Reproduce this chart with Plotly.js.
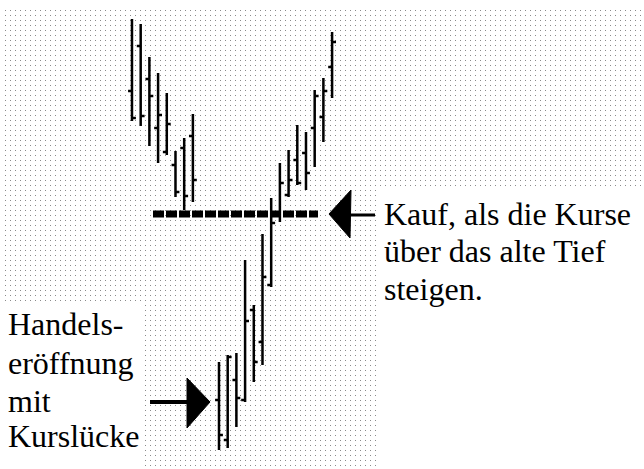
<!DOCTYPE html>
<html>
<head>
<meta charset="utf-8">
<script src="https://cdn.plot.ly/plotly-3.0.1.min.js"></script>
<style>
  html, body { margin: 0; padding: 0; background: #fff; }
  #plot { width: 644px; height: 469px; }
</style>
</head>
<body>
<div id="plot"></div>
<script>
// trading days (8 and 9 are missing: the gap)
var days = [0, 1, 2, 3, 4, 5, 6, 7,
            10, 11, 12, 13, 14, 15, 16,
            17, 18, 19, 20, 21, 22, 23];

var opens  = [81.8, 90.8, 84.2, 74.4, 69.6, 67.0, 70.4, 72.8,
              20.0, 12.0, 24.0, 20.0, 38.0, 31.6, 43.0,
              57.0, 61.0, 68.0, 69.4, 74.4, 76.6, 86.6];
var highs  = [96.2, 95.2, 88.6, 85.4, 81.4, 69.8, 72.4, 77.2,
              27.6, 29.0, 29.4, 48.0, 39.0, 53.2, 60.4,
              67.4, 70.0, 75.0, 73.6, 82.0, 84.4, 93.6];
var lows   = [75.8, 74.8, 70.8, 67.4, 69.0, 60.6, 58.0, 59.6,
              10.0, 10.4, 14.6, 19.6, 23.6, 27.0, 42.6,
              55.6, 60.6, 63.0, 62.0, 66.6, 71.6, 80.4];
var closes = [76.4, 76.8, 80.8, 77.0, 75.2, 61.6, 60.8, 64.0,
              13.0, 28.6, 20.4, 35.8, 27.6, 44.6, 55.4,
              63.4, 64.0, 63.4, 65.4, 80.8, 81.8, 91.6];

var oldLow = 57.2;   // the old low, dashed line

var buyText = ["Kauf, als die Kurse", "über das alte Tief", "steigen."];
var gapText = ["Handels-", "eröffnung", "mit", "Kurslücke"];

// pixel -> paper helpers for the drawn notes
function fx(x) { return x / 644; }
function fy(y) { return 1 - y / 469; }

var trace = {
  type: "ohlc",
  x: days,
  open: opens,
  high: highs,
  low: lows,
  close: closes,
  tickwidth: 0.45,
  increasing: {line: {color: "#000", width: 2.5}},
  decreasing: {line: {color: "#000", width: 2.5}},
  hoverinfo: "skip"
};

var serif = {family: "Liberation Serif", size: 32, color: "#000"};

var annotations = [];
var buyY = [214, 251, 289];
buyText.forEach(function(t, i) {
  annotations.push({xref: "paper", yref: "paper", x: fx(382), y: fy(buyY[i]),
    xanchor: "left", yanchor: "middle", text: t, showarrow: false, font: serif});
});
var gapY = [324, 363, 401, 436];
gapText.forEach(function(t, i) {
  annotations.push({xref: "paper", yref: "paper", x: fx(6), y: fy(gapY[i]),
    xanchor: "left", yanchor: "middle", text: t, showarrow: false, font: serif});
});

function rect(x0, y0, x1, y1) {
  return {type: "rect", xref: "paper", yref: "paper", layer: "above",
    x0: fx(x0), x1: fx(x1), y0: fy(y0), y1: fy(y1),
    fillcolor: "#fff", line: {width: 0}};
}

var shapes = [
  // blank out the dotted grid where the scan is white
  rect(0, 0, 644, 8),
  rect(0, 0, 5, 469),
  rect(0, 466, 644, 469),
  rect(0, 304, 145, 469),
  rect(377, 187, 644, 469),
  // old low
  {type: "line", xref: "paper", yref: "y", x0: fx(153), x1: fx(318), y0: oldLow, y1: oldLow,
   line: {color: "#000", width: 7, dash: "11px,2px"}},
  // buy arrow
  {type: "path", xref: "paper", yref: "paper",
   path: "M" + fx(329) + "," + fy(214) + " L" + fx(351) + "," + fy(190) +
         " L" + fx(350) + "," + fy(238) + " Z",
   fillcolor: "#000", line: {color: "#000", width: 1}},
  {type: "line", xref: "paper", yref: "paper", x0: fx(348), x1: fx(375), y0: fy(215), y1: fy(215),
   line: {color: "#000", width: 3}},
  // gap arrow
  {type: "path", xref: "paper", yref: "paper",
   path: "M" + fx(210) + "," + fy(402) + " L" + fx(187) + "," + fy(378) +
         " L" + fx(187) + "," + fy(428) + " Z",
   fillcolor: "#000", line: {color: "#000", width: 1}},
  {type: "line", xref: "paper", yref: "paper", x0: fx(150), x1: fx(190), y0: fy(402), y1: fy(402),
   line: {color: "#000", width: 4}}
];

var layout = {
  width: 644,
  height: 469,
  margin: {l: 0, r: 0, t: 0, b: 0},
  paper_bgcolor: "#fff",
  plot_bgcolor: "#fff",
  showlegend: false,
  xaxis: {
    range: [-15.17, 58.85],
    showgrid: false, zeroline: false, showline: false, showticklabels: false,
    rangeslider: {visible: false},
    fixedrange: true
  },
  yaxis: {
    range: [6.2, 100],
    tick0: 0, dtick: 1,
    showgrid: true, gridcolor: "#8a8a8a", gridwidth: 1, griddash: "1px,4px",
    zeroline: false, showline: false, showticklabels: false,
    fixedrange: true
  },
  shapes: shapes,
  annotations: annotations
};

Plotly.newPlot("plot", [trace], layout, {displayModeBar: false, staticPlot: true});
</script>
</body>
</html>
